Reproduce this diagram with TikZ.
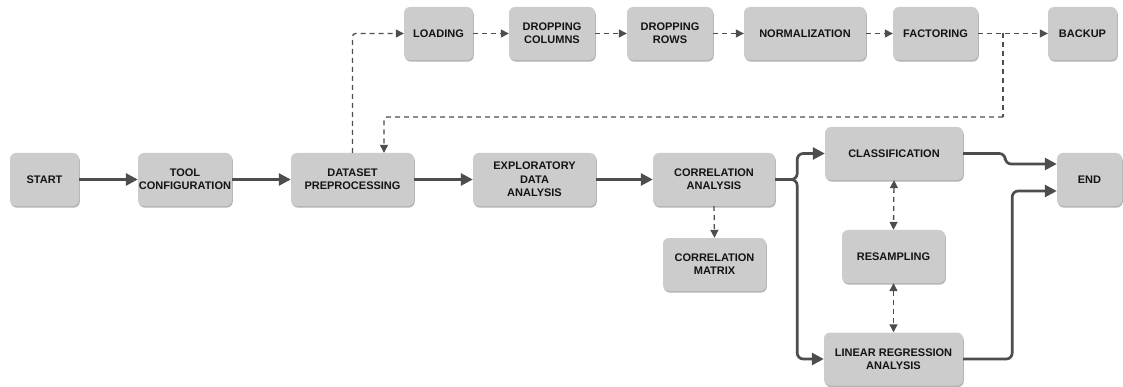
\documentclass[tikz,border=0pt]{standalone}
\usepackage{fontspec}
\setmainfont{Liberation Sans}
\usetikzlibrary{arrows.meta,shadows}
\definecolor{boxfill}{HTML}{CCCCCC}
\definecolor{boxshade}{HTML}{B4B4B4}
\definecolor{linkcol}{HTML}{4D4D4D}
\definecolor{txt}{HTML}{141414}

\begin{document}
\begin{tikzpicture}[x=1pt,y=-1pt,
  stage/.style={rectangle, rounded corners=6pt, fill=boxfill, minimum height=53pt,
    inner sep=0pt, align=center, font=\fontsize{11}{13.3}\selectfont\bfseries, text=txt,
    drop shadow={shadow xshift=0.8pt, shadow yshift=-1.6pt, fill=boxshade, opacity=1}},
  flow/.style={draw=linkcol, line width=2.7pt, rounded corners=6pt,
    -{Triangle[length=12pt,width=12pt]}},
  aux/.style={draw=linkcol, line width=1.3pt, dash pattern=on 5pt off 4pt,
    rounded corners=3pt, -{Triangle[length=8pt,width=8pt]}},
  auxboth/.style={aux, {Triangle[length=8pt,width=8pt]}-{Triangle[length=8pt,width=8pt]}},
  auxline/.style={draw=linkcol, line width=1.3pt, dash pattern=on 5pt off 4pt,
    rounded corners=3pt}]

\fill[white] (0,0) rectangle (1123,387);
\useasboundingbox (0,0) rectangle (1123,387);

% main pipeline
\node[stage, minimum width=69pt]  (start)   at (44.5,179.5) {START};
\node[stage, minimum width=94pt]  (tool)    at (185,179.5)  {TOOL\\CONFIGURATION};
\node[stage, minimum width=123pt] (dataset) at (352.5,179.5) {DATASET\\PREPROCESSING};
\node[stage, minimum width=123pt] (eda)     at (534.5,179.5) {EXPLORATORY\\DATA\\ANALYSIS};
\node[stage, minimum width=122pt] (corr)    at (714,179.5)  {CORRELATION\\ANALYSIS};
\node[stage, minimum width=103pt] (matrix)  at (714.5,264.5) {CORRELATION\\MATRIX};
\node[stage, minimum width=138pt] (class)   at (894,153.5)  {CLASSIFICATION};
\node[stage, minimum width=103pt] (resamp)  at (893.5,256.5) {RESAMPLING};
\node[stage, minimum width=139pt] (linreg)  at (893.5,359)  {LINEAR REGRESSION\\ANALYSIS};
\node[stage, minimum width=65pt]  (end)     at (1089.5,179.5) {END};

% preprocessing steps
\node[stage, minimum width=69pt]  (loading) at (438.5,33.5) {LOADING};
\node[stage, minimum width=86pt]  (dropcol) at (552,33.5)   {DROPPING\\COLUMNS};
\node[stage, minimum width=86pt]  (droprow) at (670,33.5)   {DROPPING\\ROWS};
\node[stage, minimum width=122pt] (norm)    at (805,33.5)   {NORMALIZATION};
\node[stage, minimum width=85pt]  (factor)  at (935.5,33.5) {FACTORING};
\node[stage, minimum width=69pt]  (backup)  at (1082.5,33.5) {BACKUP};

% solid flow
\draw[flow] (start) -- (tool);
\draw[flow] (tool) -- (dataset);
\draw[flow] (dataset) -- (eda);
\draw[flow] (eda) -- (corr);
\draw[flow] (corr.east) -- ++(22,0) |- (class.west);
\draw[flow] (corr.east) -- ++(22,0) |- (linreg.west);
\draw[flow] (class.east) -- ++(42,0) |- ([yshift=15.5pt]end.west);
\draw[flow] (linreg.east) -- ++(49,0) |- ([yshift=-11.5pt]end.west);

% dashed links
\draw[aux] (corr.south) -- (matrix.north);
\draw[auxboth] (class.south) -- (resamp.north);
\draw[auxboth] (resamp.south) -- (linreg.north);

\draw[aux] (dataset.north) |- (loading.west);
\draw[aux] (loading) -- (dropcol);
\draw[aux] (dropcol) -- (droprow);
\draw[aux] (droprow) -- (norm);
\draw[aux] (norm) -- (factor);
\draw[aux] (factor) -- (backup);
\coordinate (split) at (1003,33.5);
\coordinate (back)  at (1003,117);
\draw[auxline] (split) -- (back);
\draw[aux] (back) -| ([xshift=31.5pt]dataset.north);
\end{tikzpicture}
\end{document}
